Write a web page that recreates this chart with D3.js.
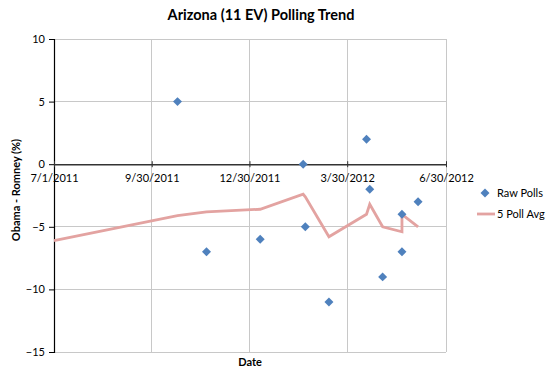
<!DOCTYPE html>
<html><head><meta charset="utf-8">
<script src="https://cdn.jsdelivr.net/npm/d3@7"></script>
<style>body{margin:0;background:#fff}svg{display:block;font-family:"Lato","Open Sans",sans-serif}</style>
</head><body><svg id="c" width="560" height="379"></svg>
<script>
const title = "Arizona (11 EV) Polling Trend";
const xTickLabels = ["7/1/2011","9/30/2011","12/30/2011","3/30/2012","6/30/2012"];
const yTicks = [10,5,0,-5,-10,-15];
const pollDates = ["2011-10-24","2011-11-20","2012-01-09","2012-02-18","2012-02-20","2012-03-13","2012-04-17","2012-04-20","2012-05-02","2012-05-20","2012-05-20","2012-06-04"];
const pollValues = [5,-7,-6,0,-5,-11,2,-2,-9,-7,-4,-3];
const avgDates = ["2011-07-01","2011-10-24","2011-11-20","2012-01-09","2012-02-18","2012-02-20","2012-03-13","2012-04-17","2012-04-20","2012-05-02","2012-05-20","2012-05-20","2012-06-04"];
const avgValues = [-6.1,-4.1,-3.8,-3.6,-2.4,-2.6,-5.8,-4.0,-3.2,-5.0,-5.4,-4.0,-5.0];

const parse = d3.timeParse("%Y-%m-%d");
const tickDates = ["2011-07-01","2011-09-30","2011-12-30","2012-03-30","2012-06-30"].map(parse);
const svg = d3.select("#c");
const L=54,R=446,T=39,B=352;
const x = d3.scaleTime().domain([parse("2011-07-01"),parse("2012-06-30")]).range([L,R]);
const y = d3.scaleLinear().domain([-15,10]).range([B,T]);

// gridlines
svg.append("g").selectAll("line.h").data(yTicks).join("line")
  .attr("x1",L).attr("x2",R).attr("y1",d=>y(d)).attr("y2",d=>y(d))
  .attr("stroke","#c8c8c8").attr("stroke-width",1).attr("shape-rendering","crispEdges");
svg.append("g").selectAll("line.v").data(tickDates.slice(1)).join("line")
  .attr("x1",d=>x(d)).attr("x2",d=>x(d)).attr("y1",T).attr("y2",B)
  .attr("stroke","#c8c8c8").attr("stroke-width",1).attr("shape-rendering","crispEdges");

// y axis
const yAxis = d3.axisLeft(y).tickValues(yTicks).tickSize(5).tickPadding(4);
const gy = svg.append("g").attr("transform",`translate(${L},0)`).call(yAxis);
gy.select(".domain").attr("stroke","#000").attr("stroke-width",1.2);
gy.selectAll(".tick line").attr("stroke","#000");
gy.selectAll("text").attr("font-size",11).attr("fill","#000").attr("font-family","Lato");

// x axis on zero line
const xAxis = d3.axisBottom(x).tickValues(tickDates).tickFormat((d,i)=>xTickLabels[i]).tickSize(3).tickPadding(7).tickSizeOuter(0);
const gx = svg.append("g").attr("transform",`translate(0,${y(0)})`).call(xAxis);
gx.select(".domain").attr("stroke","#333").attr("stroke-width",1.6);
gx.selectAll(".tick line").attr("stroke","#333").attr("y1",-3);
gx.selectAll("text").attr("font-size",11).attr("fill","#000").attr("font-family","Lato");

// avg line
const lineGen = d3.line().x((d,i)=>x(parse(avgDates[i]))).y(d=>y(d));
svg.append("path").datum(avgValues).attr("d",lineGen)
  .attr("fill","none").attr("stroke","#e3a3a1").attr("stroke-width",2.8).attr("stroke-linejoin","miter");

// points
const sym = d3.symbol().type(d3.symbolSquare).size(40);
svg.append("g").selectAll("path").data(pollValues).join("path")
  .attr("d",sym())
  .attr("transform",(d,i)=>`translate(${x(parse(pollDates[i]))},${y(d)}) rotate(45)`)
  .attr("fill","#4f81bd");

// title
svg.append("text").attr("x",261).attr("y",20).attr("text-anchor","middle")
  .attr("font-size",14.5).attr("font-weight","bold").text(title);
// axis titles
svg.append("text").attr("transform","translate(20,190) rotate(-90)").attr("text-anchor","middle")
  .attr("font-size",11).attr("font-weight","bold").text("Obama - Romney (%)");
svg.append("text").attr("x",250).attr("y",366).attr("text-anchor","middle")
  .attr("font-size",11).attr("font-weight","bold").text("Date");

// legend
svg.append("path").attr("d",sym()).attr("transform","translate(485,193) rotate(45)").attr("fill","#4f81bd");
svg.append("text").attr("x",497).attr("y",197).attr("font-size",11).text("Raw Polls");
svg.append("line").attr("x1",477).attr("x2",495).attr("y1",214).attr("y2",214).attr("stroke","#e3a3a1").attr("stroke-width",2.8);
svg.append("text").attr("x",497).attr("y",218).attr("font-size",11).text("5 Poll Avg");
</script></body></html>
